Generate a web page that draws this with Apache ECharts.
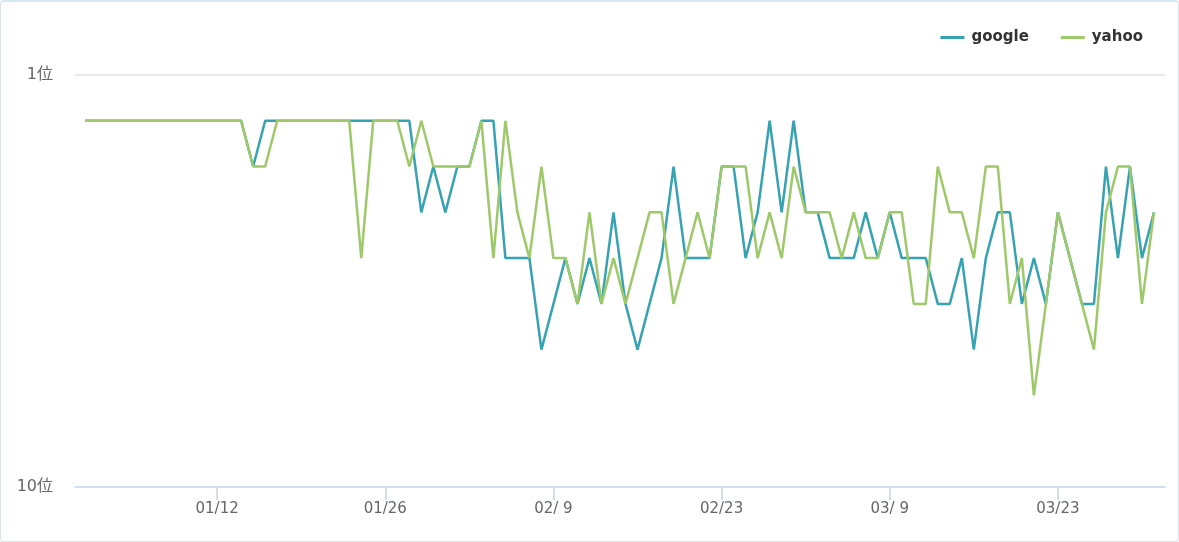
<!DOCTYPE html>
<html>
<head>
<meta charset="utf-8">
<script src="https://cdn.jsdelivr.net/npm/echarts@6/dist/echarts.min.js"></script>
<style>
  html, body { margin: 0; padding: 0; background: #fff; }
  #wrap {
    width: 1179px; height: 542px; box-sizing: border-box;
    border: 1px solid #dde3e8; border-top: 2px solid #d3e8f0; border-radius: 4px;
  }
  #line { width: 100%; height: 100%; }
</style>
</head>
<body>
<div id="wrap"><div id="line"></div></div>
<script>
// 順位推移 (01/01 - 03/31, 日次)
var seriesNames = ['google', 'yahoo'];
var tickIndex = [11, 25, 39, 53, 67, 81];
var tickLabels = ['01/12', '01/26', '02/ 9', '02/23', '03/ 9', '03/23'];
var google = [2, 2, 2, 2, 2, 2, 2, 2, 2, 2, 2, 2, 2, 2, 3, 2, 2, 2, 2, 2,
  2, 2, 2, 2, 2, 2, 2, 2, 4, 3, 4, 3, 3, 2, 2, 5, 5, 5, 7, 6,
  5, 6, 5, 6, 4, 6, 7, 6, 5, 3, 5, 5, 5, 3, 3, 5, 4, 2, 4, 2,
  4, 4, 5, 5, 5, 4, 5, 4, 5, 5, 5, 6, 6, 5, 7, 5, 4, 4, 6, 5,
  6, 4, 5, 6, 6, 3, 5, 3, 5, 4];
var yahoo = [2, 2, 2, 2, 2, 2, 2, 2, 2, 2, 2, 2, 2, 2, 3, 3, 2, 2, 2, 2,
  2, 2, 2, 5, 2, 2, 2, 3, 2, 3, 3, 3, 3, 2, 5, 2, 4, 5, 3, 5,
  5, 6, 4, 6, 5, 6, 5, 4, 4, 6, 5, 4, 5, 3, 3, 3, 5, 4, 5, 3,
  4, 4, 4, 5, 4, 5, 5, 4, 4, 6, 6, 3, 4, 4, 5, 3, 3, 6, 5, 8,
  6, 4, 5, 6, 7, 4, 3, 3, 6, 4];

function rankChart () {
  var font = 'DejaVu Sans, Noto Sans CJK JP, sans-serif';
  var toPoints = function (arr) {
    return arr.map(function (v, i) { return [i, v]; });
  };
  // 1. 実例化
  const myChart = echarts.init(document.getElementById('line'));
  // 2. 設定
  const option = {
    animation: false,
    tooltip: { trigger: 'axis' },
    legend: {
      data: seriesNames,
      top: 23,
      right: 30,
      itemGap: 32,
      itemWidth: 24,
      itemHeight: 3,
      icon: 'rect',
      textStyle: {
        fontFamily: font,
        fontSize: 15,
        fontWeight: 'bold',
        color: '#333',
        padding: [0, 0, 0, 2]
      }
    },
    grid: {
      left: 74,
      right: 13,
      top: 73,
      bottom: 54
    },
    xAxis: {
      type: 'value',
      min: -10 / 12,
      max: -10 / 12 + 1089 / 12,
      splitLine: { show: false },
      axisLine: { lineStyle: { color: '#c6d2ea', width: 1.5 } },
      axisTick: {
        show: true,
        length: 13,
        customValues: tickIndex,
        lineStyle: { color: '#c6d2ea', width: 1.5 }
      },
      axisLabel: {
        customValues: tickIndex,
        margin: 15,
        fontFamily: font,
        fontSize: 15,
        color: '#666',
        formatter: function (v) {
          return tickLabels[tickIndex.indexOf(Math.round(v))] || '';
        }
      }
    },
    yAxis: {
      type: 'value',
      inverse: true,
      min: 1,
      max: 10,
      splitNumber: 1,
      axisLine: { show: false },
      axisTick: { show: false },
      // 上端(1位)だけ薄い罫線
      splitLine: { lineStyle: { color: ['#e0e0e0', 'rgba(0,0,0,0)'], width: 1.5 } },
      axisLabel: {
        margin: 22,
        fontFamily: font,
        fontSize: 16,
        color: '#666',
        formatter: function (v) { return v + '位'; }
      }
    },
    series: [{
      name: 'google',
      type: 'line',
      data: toPoints(google),
      showSymbol: false,
      itemStyle: { color: '#36a2b2' },
      lineStyle: { width: 2.5, color: '#36a2b2' }
    }, {
      name: 'yahoo',
      type: 'line',
      data: toPoints(yahoo),
      showSymbol: false,
      itemStyle: { color: '#9ec96a' },
      lineStyle: { width: 2.5, color: '#9ec96a' }
    }]
  };
  // 3. 反映
  myChart.setOption(option);
  // 4. リサイズ対応
  window.addEventListener('resize', function () {
    myChart.resize();
  });
}
rankChart();
</script>
</body>
</html>
